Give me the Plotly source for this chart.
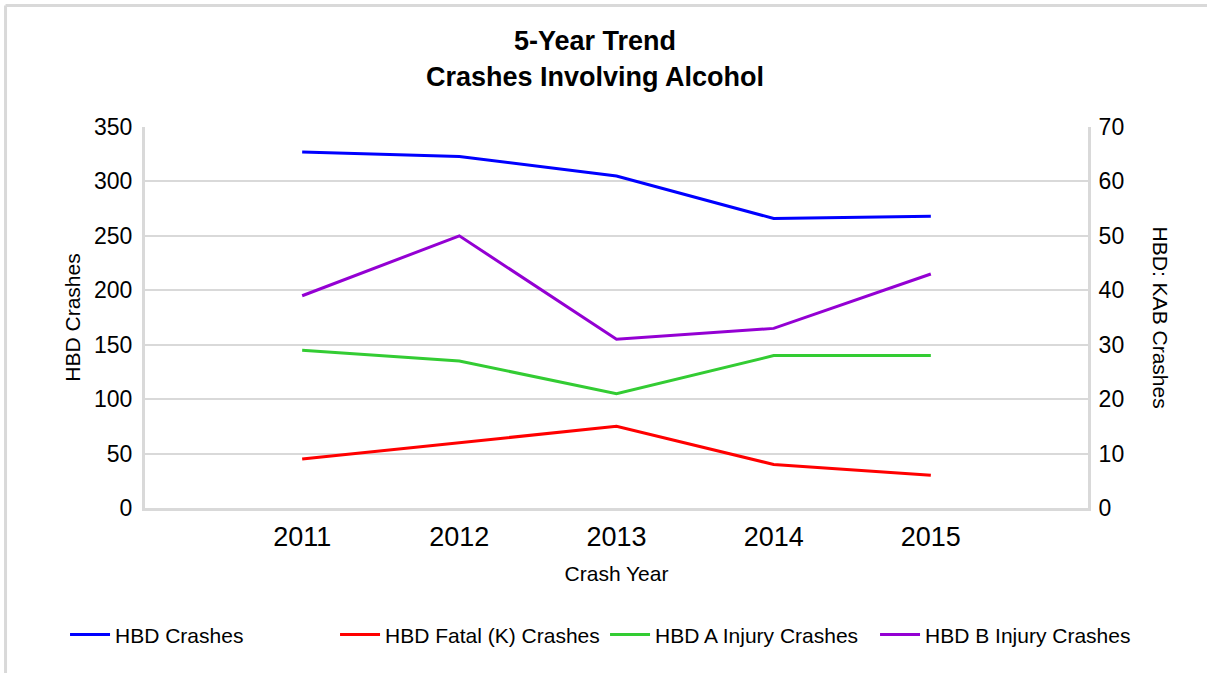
import plotly.graph_objects as go

years = [2011, 2012, 2013, 2014, 2015]
hbd_crashes = [327, 323, 305, 266, 268]
fatal_k = [9, 12, 15, 8, 6]
injury_a = [29, 27, 21, 28, 28]
injury_b = [39, 50, 31, 33, 43]

font = "Liberation Sans, Arial, sans-serif"
grid = "#d9d9d9"

fig = go.Figure()
fig.add_trace(go.Scatter(x=years, y=hbd_crashes, mode="lines", name="HBD Crashes",
                         line=dict(color="#0000ff", width=3)))
fig.add_trace(go.Scatter(x=years, y=fatal_k, mode="lines", name="HBD Fatal (K) Crashes",
                         line=dict(color="#ff0000", width=3), yaxis="y2"))
fig.add_trace(go.Scatter(x=years, y=injury_a, mode="lines", name="HBD A Injury Crashes",
                         line=dict(color="#33cc33", width=3), yaxis="y2"))
fig.add_trace(go.Scatter(x=years, y=injury_b, mode="lines", name="HBD B Injury Crashes",
                         line=dict(color="#9400d3", width=3), yaxis="y2"))

fig.update_layout(
    width=1207, height=673,
    margin=dict(l=145, r=119, t=127, b=165),
    paper_bgcolor="white", plot_bgcolor="white",
    font=dict(family=font, color="black", size=21),
    title=dict(text="<b>5-Year Trend<br>Crashes Involving Alcohol</b>",
               x=0.493, xanchor="center", y=0.925, yanchor="middle",
               font=dict(size=27, color="black")),
    xaxis=dict(range=[2010, 2016], tickvals=years, showgrid=False,
               showline=True, linecolor=grid, linewidth=3, mirror=False,
               ticks="outside", ticklen=3, tickcolor="rgba(0,0,0,0)",
               tickfont=dict(size=27),
               title=dict(text="Crash Year", font=dict(size=21), standoff=15)),
    yaxis=dict(range=[0, 350], dtick=50, showgrid=True, gridcolor=grid, gridwidth=2,
               showline=True, linecolor=grid, linewidth=3, zeroline=False,
               ticks="outside", ticklen=5, tickcolor="rgba(0,0,0,0)",
               tickfont=dict(size=23),
               title=dict(text="HBD Crashes", font=dict(size=21), standoff=8)),
    yaxis2=dict(range=[0, 70], dtick=10, overlaying="y", side="right",
                showgrid=False, showline=True, linecolor=grid, linewidth=3,
                zeroline=False, ticks="outside", ticklen=3,
                tickcolor="rgba(0,0,0,0)", tickfont=dict(size=23)),
    # anchored left of the plot area so the row may run past the plot width
    legend=dict(orientation="h", x=-0.0848, xanchor="left", y=-0.333,
                yanchor="middle", font=dict(size=21), itemwidth=40,
                entrywidth=215, entrywidthmode="pixels"),
    showlegend=True,
)

# right axis title reads top-to-bottom
fig.add_annotation(text="HBD: KAB Crashes", textangle=90, xref="paper", yref="paper",
                   x=1.0773, y=0.5, xanchor="center", yanchor="middle",
                   showarrow=False, font=dict(size=21))

# light grey frame on the left and top of the page
fig.add_shape(type="line", xref="paper", yref="paper", x0=-0.1479, x1=-0.1479,
              y0=1.3189, y1=-0.44, line=dict(color=grid, width=3))
fig.add_shape(type="line", xref="paper", yref="paper", x0=-0.1479, x1=1.13,
              y0=1.3189, y1=1.3189, line=dict(color=grid, width=3))

fig.write_html("out.html", config={"displayModeBar": False},
               post_script="document.body.style.margin='0';")
